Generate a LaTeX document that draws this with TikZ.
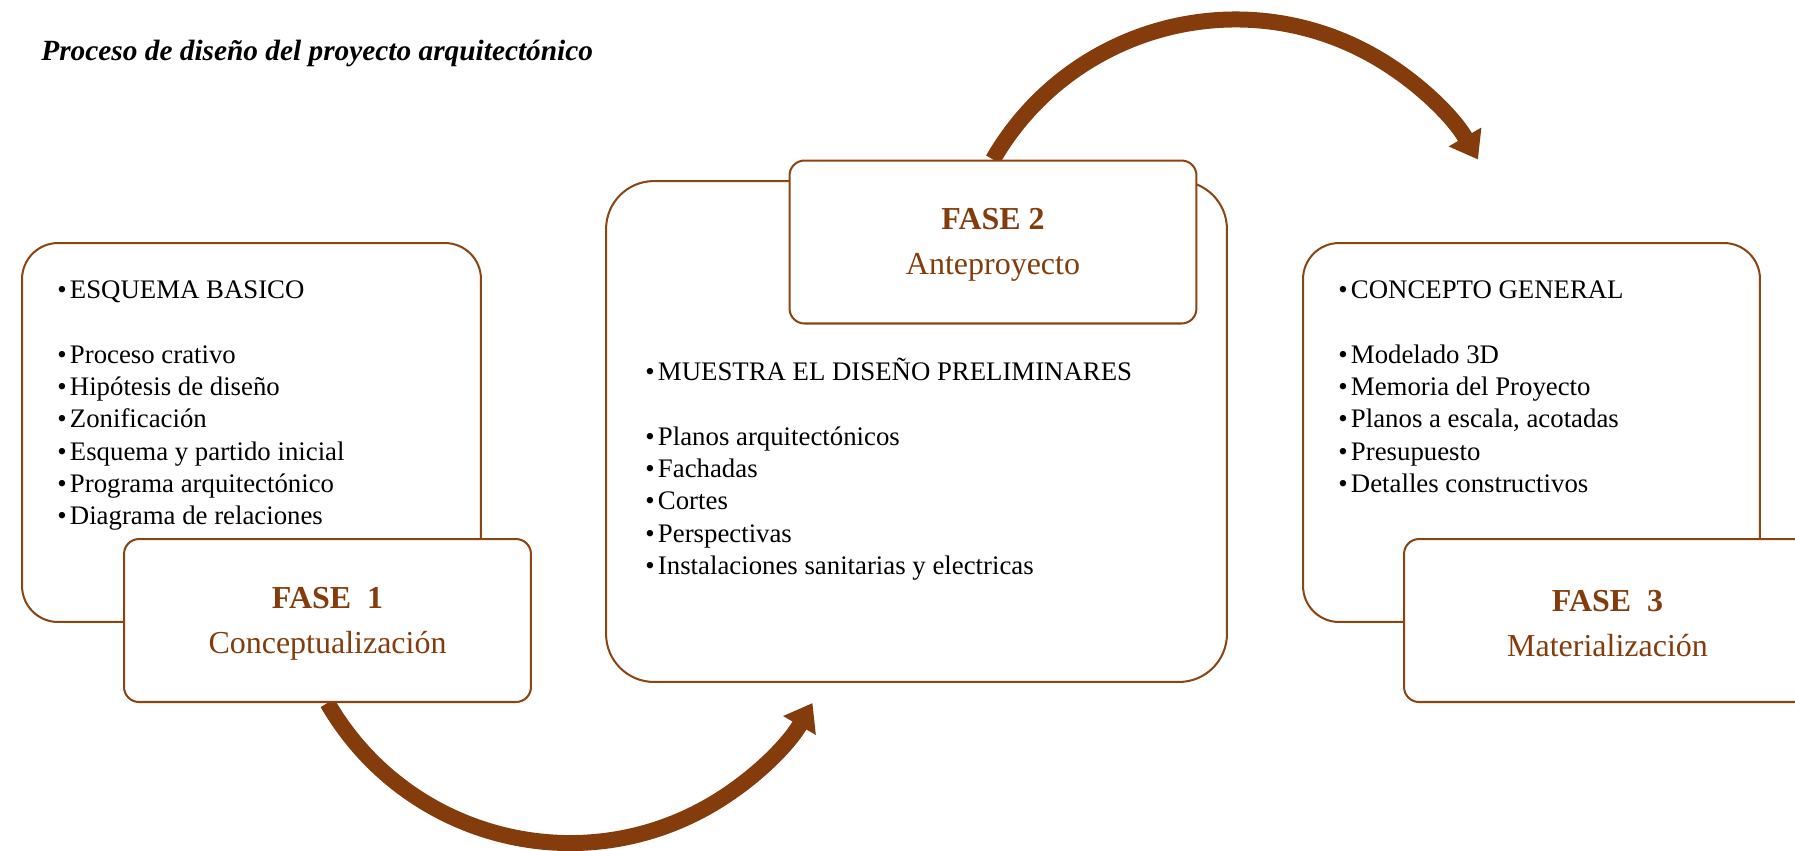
\documentclass[tikz,border=0pt]{standalone}
\usepackage{fontspec}
\setmainfont{Liberation Serif}
\usetikzlibrary{arrows.meta,positioning,backgrounds}
\definecolor{fasebrown}{HTML}{843C0C}
\definecolor{edgebrown}{HTML}{8B4513}
\newcommand{\itemfont}{\fontsize{15.25pt}{18.4pt}\selectfont}
\newcommand{\fasefont}{\fontsize{18.2pt}{25.6pt}\selectfont}
\newcommand{\titlefont}{\fontsize{16.7pt}{20pt}\selectfont}
\newcommand{\blt}{•\hspace{0.12em}}

\begin{document}
\begin{tikzpicture}[
  x=0.02cm, y=0.02cm,
  bigbox/.style={draw=edgebrown, line width=1.15pt, fill=white, inner sep=0,
                 rounded corners=20.5pt},
  fasebox/.style={draw=edgebrown, line width=1.15pt, fill=white, inner sep=0,
                  rounded corners=8.5pt, minimum width=8.14cm, minimum height=3.26cm,
                  align=center, font=\fasefont, text=fasebrown},
  itemlist/.style={anchor=north west, inner sep=0, align=left, font=\itemfont},
  flow/.style={-{Triangle[length=14.8pt, width=20.5pt]}, fasebrown, line width=9.1pt},
]

\useasboundingbox (0,0) rectangle (1795,-850);

% ---- title ----
\node[anchor=base west, font=\titlefont, inner sep=0] (title) at (41,-60)
  {\textbf{\textit{Proceso de diseño del proyecto arquitectónico}}};

% ---- big boxes with the lists ----
\node[bigbox, minimum width=9.18cm, minimum height=7.58cm] (b1) at (251.5,-432.5) {};
\node[bigbox, rounded corners=27.3pt, minimum width=12.42cm, minimum height=10.02cm] (b2) at (916.5,-431.5) {};
\node[bigbox, minimum width=9.14cm, minimum height=7.58cm] (b3) at (1531.5,-432.5) {};

\node[itemlist] (l1) at ([shift={(36,-33.5)}]b1.north west)
  {\strut\blt ESQUEMA BASICO\\[18.4pt]
   \blt Proceso crativo\\
   \blt Hipótesis de diseño\\
   \blt Zonificación\\
   \blt Esquema y partido inicial\\
   \blt Programa arquitectónico\\
   \blt Diagrama de relaciones};
\node[itemlist] (l2) at ([shift={(40,-177.5)}]b2.north west)
  {\strut\blt MUESTRA EL DISEÑO PRELIMINARES\\[18.4pt]
   \blt Planos arquitectónicos\\
   \blt Fachadas\\
   \blt Cortes\\
   \blt Perspectivas\\
   \blt Instalaciones sanitarias y electricas};
\node[itemlist] (l3) at ([shift={(36,-33.5)}]b3.north west)
  {\strut\blt CONCEPTO GENERAL\\[18.4pt]
   \blt Modelado 3D\\
   \blt Memoria del Proyecto\\
   \blt Planos a escala, acotadas\\
   \blt Presupuesto\\
   \blt Detalles constructivos};

% ---- phase boxes ----
\node[fasebox] (f1) at (327.5,-620.5) {\rule{0pt}{15.5pt}\textbf{FASE\ \ 1}\\Conceptualización};
\node[fasebox] (f2) at (993,-242) {\rule{0pt}{15.5pt}\textbf{FASE 2}\\Anteproyecto};
\node[fasebox] (f3) at (1607.5,-620.5) {\rule{0pt}{15.5pt}\textbf{FASE\ \ 3}\\Materialización};

% ---- curved arrows between phases ----
\begin{scope}[on background layer]
\draw[flow] (f1.south) arc[start angle=210, end angle=330, radius=280];
\draw[flow] (f2.north) arc[start angle=150, end angle=30, radius=280];
\end{scope}

\end{tikzpicture}
\end{document}
